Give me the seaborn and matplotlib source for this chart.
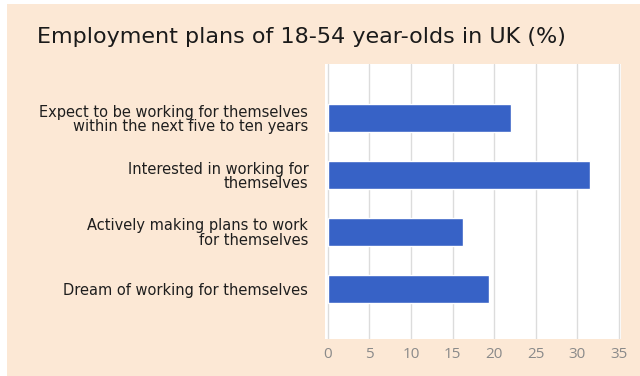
import matplotlib
matplotlib.use("Agg")
import matplotlib.pyplot as plt
from matplotlib.patches import Rectangle
import seaborn as sns
import pandas as pd

# Survey answers (share of 18-54 year-olds, %)
categories = [
    "Expect to be working for themselves\nwithin the next five to ten years",
    "Interested in working for\nthemselves",
    "Actively making plans to work\nfor themselves",
    "Dream of working for themselves",
]
values = [22, 31.5, 16.3, 19.4]
x_ticks = [0, 5, 10, 15, 20, 25, 30, 35]

df = pd.DataFrame({"answer": categories, "share": values})

sns.set_theme(style="white")
plt.rcParams["font.family"] = ["DejaVu Sans"]

fig = plt.figure(figsize=(6.4, 3.76), dpi=100)
fig.patch.set_facecolor("white")

# peach panel behind everything
fig.patches.append(Rectangle((7 / 640, 0), 1 - 7 / 640, 1 - 4 / 376,
                             transform=fig.transFigure, facecolor="#FCE8D5",
                             edgecolor="none", zorder=-10))

ax = fig.add_axes([325 / 640, 1 - 339 / 376, 296 / 640, 275 / 376])
ax.set_zorder(1)
ax.set_facecolor("white")

sns.barplot(data=df, x="share", y="answer", orient="h", color="#3762C6",
            width=0.49, saturation=1, ax=ax, zorder=3)

ax.set_xlim(-0.32, 35.24)
ax.set_ylim(3.88, -0.95)
ax.set_xticks(x_ticks)
ax.set_xticklabels([str(t) for t in x_ticks], color="#8a8a8a", fontsize=11,
                   family=["Open Sans", "DejaVu Sans"])
ax.tick_params(axis="x", length=0, pad=6)
ax.tick_params(axis="y", length=0, pad=12, labelsize=10.5, labelcolor="#1e1e1e")
for lbl in ax.get_yticklabels():
    lbl.set_horizontalalignment("right")
    lbl.set_multialignment("right")
    lbl.set_linespacing(0.95)
ax.set_xlabel("")
ax.set_ylabel("")
ax.grid(axis="x", color="#dcdcdc", linewidth=1, zorder=1)
ax.set_axisbelow(True)
for s in ax.spines.values():
    s.set_visible(False)

fig.text(37 / 640, 1 - 37 / 376, "Employment plans of 18-54 year-olds in UK (%)",
         fontsize=16, color="#1a1a1a", va="center", ha="left")

fig.savefig("out.png", dpi=100)
